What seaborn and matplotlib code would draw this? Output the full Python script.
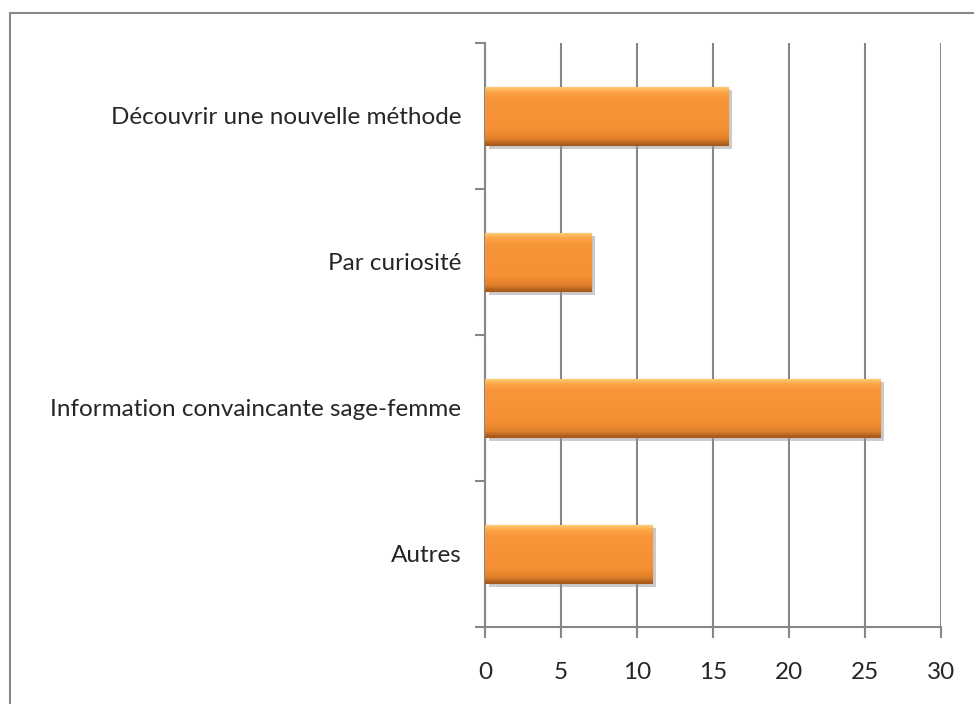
import numpy as np
import pandas as pd
import seaborn as sns
import matplotlib.pyplot as plt
import matplotlib.patheffects as pe
from matplotlib.lines import Line2D
from matplotlib.colors import LinearSegmentedColormap

categories = ['Découvrir une nouvelle méthode', 'Par curiosité',
              'Information convaincante sage-femme', 'Autres']
values = [16, 7, 26, 11]
xticks = [0, 5, 10, 15, 20, 25, 30]

df = pd.DataFrame({'raison': categories, 'n': values})

sns.set_style('white')
plt.rcParams['font.family'] = ['Lato', 'DejaVu Sans']

fig = plt.figure(figsize=(9.74, 7.04), dpi=100)
ax = fig.add_axes([0.498, 0.1094, 0.468, 0.8296])

sns.barplot(data=df, y='raison', x='n', orient='h', color='#F7923A',
            width=0.4, saturation=1, ax=ax, zorder=3)

# mostly flat orange with light top edge and dark bottom edge, plus shadow
cmap = LinearSegmentedColormap.from_list(
    'orange', [(0, '#FDD27A'), (0.1, '#FBA546'), (0.2, '#F9963A'), (0.75, '#F58F33'),
               (0.9, '#E0802A'), (1, '#A85A1C')])
grad = np.linspace(0, 1, 128).reshape(-1, 1)
for p in ax.patches:
    p.set_edgecolor('#A85A1C')
    p.set_linewidth(0.8)
    p.set_path_effects([pe.SimplePatchShadow(offset=(2.5, -2.5), shadow_rgbFace='#999999', alpha=0.5), pe.Normal()])
    x0, y0, w, h = p.get_x(), p.get_y(), p.get_width(), p.get_height()
    im = ax.imshow(grad, cmap=cmap, aspect='auto', extent=[x0, x0 + w, y0 + h, y0],
                   zorder=3.5, interpolation='bilinear')
    im.set_clip_path(p)

ax.set_xlim(0, 30)
ax.set_ylim(3.5, -0.5)
ax.set_xticks(xticks)
ax.set_xticklabels([str(t) for t in xticks], fontsize=17.5)
ax.set_yticks(range(len(categories)))
ax.set_yticklabels(categories, fontsize=17.5)
ax.set_yticks(np.arange(-0.5, len(categories), 1), minor=True)
ax.set_xlabel('')
ax.set_ylabel('')

ax.grid(axis='x', color='#878787', linewidth=1.5, zorder=0)
ax.set_axisbelow(True)
for s in ['top', 'right']:
    ax.spines[s].set_visible(False)
for s in ['left', 'bottom']:
    ax.spines[s].set_color('#878787')
    ax.spines[s].set_linewidth(1.5)

ax.tick_params(axis='x', which='major', length=8, width=1.5, color='#878787', pad=17, direction='out', bottom=True)
ax.tick_params(axis='y', which='major', length=0, pad=17, left=True)
ax.tick_params(axis='y', which='minor', length=7, width=1.5, color='#878787', direction='out', left=True)

# outer chart border (only top and left visible)
fig.add_artist(Line2D([10 / 974, 1], [1 - 13 / 704, 1 - 13 / 704], color='#878787', linewidth=1.5, transform=fig.transFigure))
fig.add_artist(Line2D([10 / 974, 10 / 974], [0, 1 - 13 / 704], color='#878787', linewidth=1.5, transform=fig.transFigure))

fig.savefig('out.png', dpi=100, facecolor='white')
